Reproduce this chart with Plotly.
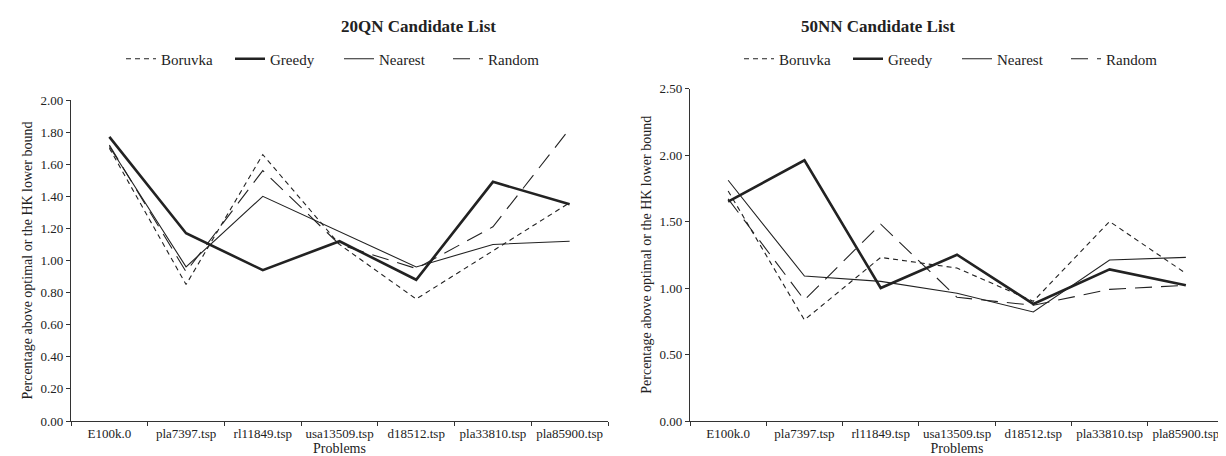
import plotly.graph_objects as go

problems = ["E100k.0", "pla7397.tsp", "rl11849.tsp", "usa13509.tsp",
            "d18512.tsp", "pla33810.tsp", "pla85900.tsp"]

# 20QN Candidate List
qn_boruvka = [1.70, 0.85, 1.66, 1.10, 0.76, 1.06, 1.36]
qn_greedy = [1.77, 1.17, 0.94, 1.12, 0.88, 1.49, 1.35]
qn_nearest = [1.71, 0.96, 1.40, 1.18, 0.96, 1.10, 1.12]
qn_random = [1.72, 0.93, 1.56, 1.10, 0.95, 1.21, 1.82]

# 50NN Candidate List
nn_boruvka = [1.73, 0.76, 1.23, 1.15, 0.90, 1.50, 1.11]
nn_greedy = [1.65, 1.96, 1.00, 1.25, 0.88, 1.14, 1.02]
nn_nearest = [1.81, 1.09, 1.05, 0.96, 0.82, 1.21, 1.23]
nn_random = [1.67, 0.91, 1.48, 0.93, 0.87, 0.99, 1.02]

left_ticks = [0.0, 0.2, 0.4, 0.6, 0.8, 1.0, 1.2, 1.4, 1.6, 1.8, 2.0]
right_ticks = [0.0, 0.5, 1.0, 1.5, 2.0, 2.5]

FONT = "Liberation Serif"
INK = "#222222"

styles = {
    "Boruvka": dict(color=INK, width=1.1, dash="5px,4px"),
    "Greedy": dict(color=INK, width=2.6, dash="solid"),
    "Nearest": dict(color=INK, width=1.1, dash="solid"),
    "Random": dict(color=INK, width=1.1, dash="17px,9px"),
}

fig = go.Figure()

left_series = [("Boruvka", qn_boruvka), ("Greedy", qn_greedy),
               ("Nearest", qn_nearest), ("Random", qn_random)]
right_series = [("Boruvka", nn_boruvka), ("Greedy", nn_greedy),
                ("Nearest", nn_nearest), ("Random", nn_random)]

for name, vals in left_series:
    fig.add_trace(go.Scatter(x=problems, y=vals, name=name, mode="lines",
                             line=styles[name], xaxis="x", yaxis="y",
                             legend="legend"))
for name, vals in right_series:
    fig.add_trace(go.Scatter(x=problems, y=vals, name=name, mode="lines",
                             line=styles[name], xaxis="x2", yaxis="y2",
                             legend="legend2"))

W, H = 1226, 456


def xdom(a, b):
    return [a / W, b / W]


def ydom(top, bottom):
    return [(H - bottom) / H, (H - top) / H]


axis_common = dict(showline=True, linecolor="#333333", linewidth=1.2,
                   ticks="outside", tickcolor="#333333", ticklen=4,
                   showgrid=False, zeroline=False, automargin=False,
                   tickfont=dict(family=FONT, size=13, color=INK))

ytitle = "Percentage above optimal or the HK lower bound"
tfont = dict(family=FONT, size=14, color=INK)

legend_common = dict(orientation="h", xanchor="center", y=(H - 51) / H,
                     yanchor="middle", font=dict(family=FONT, size=15, color=INK),
                     entrywidth=64, tracegroupgap=0, bgcolor="rgba(0,0,0,0)")

fig.update_layout(
    width=W, height=H,
    margin=dict(l=0, r=0, t=0, b=0),
    paper_bgcolor="white", plot_bgcolor="white",
    font=dict(family=FONT, color=INK),
    xaxis=dict(domain=xdom(63, 600), type="category", range=[-0.5, 6.5],
               tickson="boundaries", anchor="y", tickangle=0,
               title=dict(text="Problems", font=tfont, standoff=2),
               **axis_common),
    yaxis=dict(domain=ydom(92, 413), range=[0, 2.0], tickvals=left_ticks,
               tickformat=".2f", anchor="x",
               title=dict(text=ytitle, font=tfont, standoff=4),
               **axis_common),
    xaxis2=dict(domain=xdom(682, 1216), type="category", range=[-0.5, 6.5],
                tickson="boundaries", anchor="y2", tickangle=0,
                title=dict(text="Problems", font=tfont, standoff=2),
                **axis_common),
    yaxis2=dict(domain=ydom(80.5, 413), range=[0, 2.5], tickvals=right_ticks,
                tickformat=".2f", anchor="x2",
                title=dict(text=ytitle, font=tfont, standoff=4),
                **axis_common),
    legend=dict(x=331 / W, **legend_common),
    legend2=dict(x=949 / W, **legend_common),
    annotations=[
        dict(text="<b>20QN Candidate List</b>", x=331 / W, y=(H - 19) / H,
             xref="paper", yref="paper", showarrow=False, yanchor="middle",
             font=dict(family=FONT, size=17, color=INK)),
        dict(text="<b>50NN Candidate List</b>", x=949 / W, y=(H - 19) / H,
             xref="paper", yref="paper", showarrow=False, yanchor="middle",
             font=dict(family=FONT, size=17, color=INK)),
    ],
)

fig.write_html("out.html")
